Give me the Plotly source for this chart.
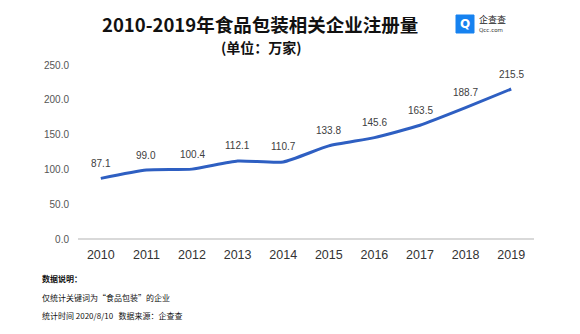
import plotly.graph_objects as go

years = ["2010", "2011", "2012", "2013", "2014", "2015", "2016", "2017", "2018", "2019"]
values = [87.1, 99.0, 100.4, 112.1, 110.7, 133.8, 145.6, 163.5, 188.7, 215.5]
y_ticks = [0, 50, 100, 150, 200, 250]

W, H = 580, 334
L, R, T, B = 78, 46, 65, 95
PW, PH = W - L - R, H - T - B

fig = go.Figure()
fig.add_trace(go.Scatter(
    x=years, y=values, mode="lines",
    line=dict(color="#2e5fc2", width=3, shape="spline", smoothing=0.5),
    hoverinfo="skip", showlegend=False,
))
for i, v in enumerate(values):
    fig.add_annotation(x=i, y=v, text=f"{v:.1f}", showarrow=False, yshift=15,
                       font=dict(size=10, color="#404040", family="Liberation Sans, Arial"))

def px(x):
    return (x - L) / PW

def py(y):
    return (H - B - y) / PH

# title & subtitle
fig.add_annotation(xref="paper", yref="paper", x=px(260), y=py(24), xanchor="center", yanchor="middle",
                   text="<b>2010-2019年食品包装相关企业注册量</b>", showarrow=False,
                   font=dict(size=18.5, color="#111111", family="Noto Sans CJK SC"))
fig.add_annotation(xref="paper", yref="paper", x=px(261), y=py(46.5), xanchor="center", yanchor="middle",
                   text="<b>(单位：万家)</b>", showarrow=False,
                   font=dict(size=14, color="#111111", family="Noto Sans CJK SC"))

# logo
fig.add_shape(type="rect", xref="paper", yref="paper", x0=px(456), x1=px(474), y0=py(33), y1=py(15),
              fillcolor="#1682f0", line=dict(color="#1682f0", width=1))
fig.add_annotation(xref="paper", yref="paper", x=px(465), y=py(24), xanchor="center", yanchor="middle",
                   text="<b>Q</b>", showarrow=False, font=dict(size=12, color="white", family="DejaVu Sans"))
fig.add_annotation(xref="paper", yref="paper", x=px(477), y=py(19), xanchor="left", yanchor="middle",
                   text="企查查", showarrow=False, font=dict(size=9, color="#222222", family="Noto Sans CJK SC"))
fig.add_annotation(xref="paper", yref="paper", x=px(477), y=py(30), xanchor="left", yanchor="middle",
                   text="Qcc.com", showarrow=False, font=dict(size=5.5, color="#333333", family="DejaVu Sans"))

# footnotes
notes = [("<b>数据说明：</b>", 278), ("仅统计关键词为“食品包装”的企业", 297),
         ("统计时间 2020/8/10   数据来源：企查查", 315)]
for t, yy in notes:
    fig.add_annotation(xref="paper", yref="paper", x=px(40), y=py(yy), xanchor="left", yanchor="middle",
                       text=t, showarrow=False, font=dict(size=8, color="#111111", family="Noto Sans CJK SC"))

fig.update_layout(
    width=W, height=H, margin=dict(l=L, r=R, t=T, b=B),
    paper_bgcolor="white", plot_bgcolor="white",
    xaxis=dict(type="category", showgrid=False, zeroline=False, showline=False,
               tickfont=dict(size=12.5, color="#333333", family="Liberation Sans, Arial"),
               ticks="outside", ticklen=4, tickcolor="rgba(0,0,0,0)", range=[-0.5, 9.5]),
    yaxis=dict(range=[0, 250], tickvals=y_ticks, ticktext=[f"{v:.1f}" for v in y_ticks],
               showgrid=False, zeroline=True, zerolinecolor="#d9d9d9", zerolinewidth=2,
               showline=False, ticks="outside", ticklen=6, tickcolor="rgba(0,0,0,0)",
               tickfont=dict(size=10, color="#555555", family="Liberation Sans, Arial")),
)

fig.write_html("out.html")
